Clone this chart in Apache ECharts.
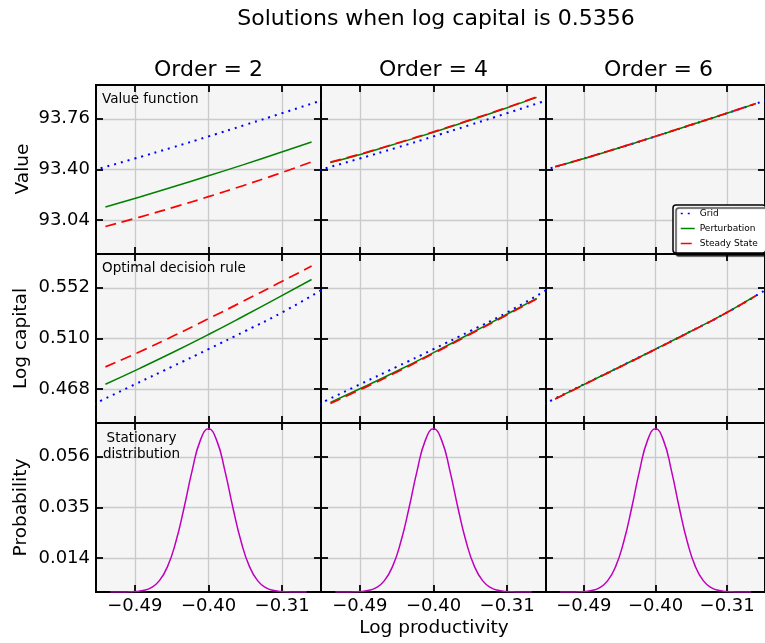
<!DOCTYPE html>
<html>
<head>
<meta charset="utf-8">
<script src="https://cdn.jsdelivr.net/npm/echarts@6/dist/echarts.min.js"></script>
<style>
  html, body { margin: 0; padding: 0; background: #fff; }
  #chart { width: 765px; height: 643px; }
</style>
</head>
<body>
<div id="chart"></div>
<script>
// tick labels
const xTicks = [-0.49, -0.40, -0.31];
const valueTicks = [93.04, 93.40, 93.76];
const capitalTicks = [0.468, 0.510, 0.552];
const probTicks = [0.014, 0.035, 0.056];

const orders = ['Order = 2', 'Order = 4', 'Order = 6'];

// grid solution (same in every column)
const gridX = [-0.54, -0.49, -0.445, -0.40, -0.355, -0.31, -0.26];
const gridValue = [93.396, 93.478, 93.555, 93.635, 93.717, 93.800, 93.894];
const gridCapital = [0.4557, 0.4720, 0.4865, 0.5012, 0.5162, 0.5316, 0.5510];

// perturbation / steady state, one array per order
const pertX = [-0.526, -0.484, -0.442, -0.400, -0.358, -0.316, -0.274];
const pertValue2 = [93.134, 93.205, 93.279, 93.355, 93.433, 93.513, 93.595];
const steadyValue2 = [92.995, 93.062, 93.133, 93.207, 93.285, 93.367, 93.454];
const pertValue4 = [93.449, 93.516, 93.589, 93.665, 93.744, 93.826, 93.912];
const steadyValue4 = [93.452, 93.519, 93.592, 93.668, 93.747, 93.829, 93.915];
const pertValue6 = [93.419, 93.487, 93.560, 93.635, 93.712, 93.789, 93.868];
const steadyValue6 = [93.420, 93.488, 93.561, 93.636, 93.713, 93.790, 93.869];

const pertCapital2 = [0.4721, 0.4853, 0.4990, 0.5133, 0.5282, 0.5435, 0.5589];
const steadyCapital2 = [0.4865, 0.4990, 0.5124, 0.5264, 0.5407, 0.5553, 0.5700];
const pertCapital4 = [0.4571, 0.4702, 0.4839, 0.4983, 0.5131, 0.5280, 0.5433];
const steadyCapital4 = [0.4562, 0.4693, 0.4831, 0.4976, 0.5124, 0.5274, 0.5428];
const pertCapital6 = [0.4600, 0.4738, 0.4874, 0.5012, 0.5152, 0.5296, 0.5456];
const steadyCapital6 = [0.4598, 0.4736, 0.4872, 0.5010, 0.5150, 0.5294, 0.5454];

// stationary distribution
const probX = [-0.52, -0.51, -0.50, -0.49, -0.48, -0.47, -0.46, -0.45, -0.44, -0.43, -0.42, -0.41, -0.40,
               -0.39, -0.38, -0.37, -0.36, -0.35, -0.34, -0.33, -0.32, -0.31, -0.30, -0.29, -0.28];
const probability = [0.0000, 0.0000, 0.00004, 0.00017, 0.0006, 0.0018, 0.0047, 0.0106, 0.0207, 0.0347, 0.0503, 0.0628, 0.0676,
                     0.0628, 0.0503, 0.0347, 0.0207, 0.0106, 0.0047, 0.0018, 0.0006, 0.00017, 0.00004, 0.0000, 0.0000];

const pertValues = [pertValue2, pertValue4, pertValue6];
const steadyValues = [steadyValue2, steadyValue4, steadyValue6];
const pertCapitals = [pertCapital2, pertCapital4, pertCapital6];
const steadyCapitals = [steadyCapital2, steadyCapital4, steadyCapital6];

const FONT = 'DejaVu Sans';
const colLeft = [96, 321, 546];
const rowTop = [85, 254, 423];
const W = 225, H = 169;
const X_MIN = -0.5375, X_MAX = -0.2625;
const rowRange = [[92.8, 94.0], [0.44, 0.58], [0, 0.07]];
const rowTicks = [valueTicks, capitalTicks, probTicks];
const rowDigits = [2, 3, 3];

const fmt = d => v => v.toFixed(d).replace('-', '\u2212');
const zip = (xs, ys) => xs.map((x, i) => [x, ys[i]]);

const line = () => ({show: true, onZero: false, lineStyle: {color: '#000', width: 2}});
const tick = vals => ({show: true, inside: true, length: 7, customValues: vals,
  lineStyle: {color: '#000', width: 1.8}});

let grid = [], xAxis = [], yAxis = [], series = [];

for (let r = 0; r < 3; r++) {
  for (let c = 0; c < 3; c++) {
    const i = r * 3 + c;
    const yt = rowTicks[r];
    grid.push({left: colLeft[c], top: rowTop[r], width: W, height: H,
      show: true, backgroundColor: '#f5f5f5', borderColor: '#000', borderWidth: 2});

    // 3i: bottom (labels + ticks), 3i+1: top ticks, 3i+2: grid lines only, kept below the ticks
    xAxis.push({type: 'value', gridIndex: i, min: X_MIN, max: X_MAX, position: 'bottom', z: 3,
      axisLine: line(), axisTick: tick(xTicks),
      axisLabel: {show: r === 2, customValues: xTicks, formatter: fmt(2),
        fontSize: 18, color: '#000', fontFamily: FONT, margin: 5},
      splitLine: {show: false}});
    xAxis.push({type: 'value', gridIndex: i, min: X_MIN, max: X_MAX, position: 'top', z: 3,
      axisLine: line(), axisTick: tick(xTicks),
      axisLabel: {show: false, customValues: xTicks}, splitLine: {show: false}});
    xAxis.push({type: 'value', gridIndex: i, min: X_MIN, max: X_MAX, position: 'bottom', z: 0,
      axisLine: {show: false, onZero: false}, axisTick: {show: false, customValues: xTicks},
      axisLabel: {show: false, customValues: xTicks},
      splitLine: {show: true, lineStyle: {color: '#cbcbcb', width: 1.3}}});

    yAxis.push({type: 'value', gridIndex: i, min: rowRange[r][0], max: rowRange[r][1], position: 'left', z: 3,
      axisLine: line(), axisTick: tick(yt),
      axisLabel: {show: c === 0, customValues: yt, formatter: fmt(rowDigits[r]),
        fontSize: 18, color: '#000', fontFamily: FONT, margin: 6},
      splitLine: {show: false}});
    yAxis.push({type: 'value', gridIndex: i, min: rowRange[r][0], max: rowRange[r][1], position: 'right', z: 3,
      axisLine: line(), axisTick: tick(yt),
      axisLabel: {show: false, customValues: yt}, splitLine: {show: false}});
    yAxis.push({type: 'value', gridIndex: i, min: rowRange[r][0], max: rowRange[r][1], position: 'left', z: 0,
      axisLine: {show: false, onZero: false}, axisTick: {show: false, customValues: yt},
      axisLabel: {show: false, customValues: yt},
      splitLine: {show: true, lineStyle: {color: '#cbcbcb', width: 1.3}}});

    const base = {type: 'line', xAxisIndex: 3 * i, yAxisIndex: 3 * i, symbol: 'none',
      smooth: true, silent: true};
    if (r < 2) {
      const g = r === 0 ? gridValue : gridCapital;
      const p = r === 0 ? pertValues[c] : pertCapitals[c];
      const s = r === 0 ? steadyValues[c] : steadyCapitals[c];
      series.push(Object.assign({}, base, {name: 'Grid', data: zip(gridX, g),
        lineStyle: {color: '#0000ff', width: 2, type: [2, 5]}, itemStyle: {color: '#0000ff'}}));
      series.push(Object.assign({}, base, {name: 'Perturbation', data: zip(pertX, p),
        lineStyle: {color: '#008000', width: 1.5}, itemStyle: {color: '#008000'}}));
      series.push(Object.assign({}, base, {name: 'Steady State', data: zip(pertX, s),
        lineStyle: {color: '#ff0000', width: 1.7, type: [11, 6]}, itemStyle: {color: '#ff0000'}}));
    } else {
      series.push(Object.assign({}, base, {name: 'Stationary', data: zip(probX, probability),
        lineStyle: {color: '#bf00bf', width: 1.5}, itemStyle: {color: '#bf00bf'}}));
    }
  }
}

const txt = (text, x, y, size, extra) => Object.assign({type: 'text', x: x, y: y, silent: true,
  style: {text: text, fontSize: size, fontFamily: FONT, fill: '#000', textAlign: 'center', textVerticalAlign: 'middle'}}, extra || {});

const graphic = [
  txt('Solutions when log capital is 0.5356', 436, 19, 22),
  txt(orders[0], 208.5, 70, 22),
  txt(orders[1], 433.5, 70, 22),
  txt(orders[2], 658.5, 70, 22),
  txt('Value', 23, 169, 18.5, {rotation: Math.PI / 2}),
  txt('Log capital', 21, 338.5, 18.5, {rotation: Math.PI / 2}),
  txt('Probability', 21, 507.5, 18.5, {rotation: Math.PI / 2}),
  txt('Log productivity', 434, 628, 18.5),
  {type: 'text', x: 102, y: 99, silent: true, z: 10,
    style: {text: 'Value function', fontSize: 13.5, fontFamily: FONT, fill: '#000', textVerticalAlign: 'middle'}},
  {type: 'text', x: 102, y: 268, silent: true, z: 10,
    style: {text: 'Optimal decision rule', fontSize: 13.5, fontFamily: FONT, fill: '#000', textVerticalAlign: 'middle'}},
  txt('Stationary\ndistribution', 141.5, 446, 13.5, {z: 10, style: {text: 'Stationary\ndistribution',
    fontSize: 13.5, fontFamily: FONT, fill: '#000', textAlign: 'center', textVerticalAlign: 'middle', lineHeight: 16}})
];

const chart = echarts.init(document.getElementById('chart'));
chart.setOption({
  animation: false,
  backgroundColor: '#fff',
  grid: grid,
  xAxis: xAxis,
  yAxis: yAxis,
  legend: {
    data: ['Grid', 'Perturbation', 'Steady State'],
    orient: 'vertical', left: 673, top: 205, z: 10,
    itemWidth: 14, itemHeight: 8, itemGap: 6,
    padding: [4, 8, 5, 7],
    backgroundColor: '#fff', borderColor: '#000', borderWidth: 1.5, borderRadius: 3,
    shadowColor: 'rgba(0,0,0,0.75)', shadowBlur: 1, shadowOffsetX: 3, shadowOffsetY: 3,
    itemStyle: {opacity: 0},
    lineStyle: {width: 1.5},
    textStyle: {fontSize: 9, color: '#000', fontFamily: FONT},
    selectedMode: false
  },
  graphic: graphic,
  series: series
});
</script>
</body>
</html>
